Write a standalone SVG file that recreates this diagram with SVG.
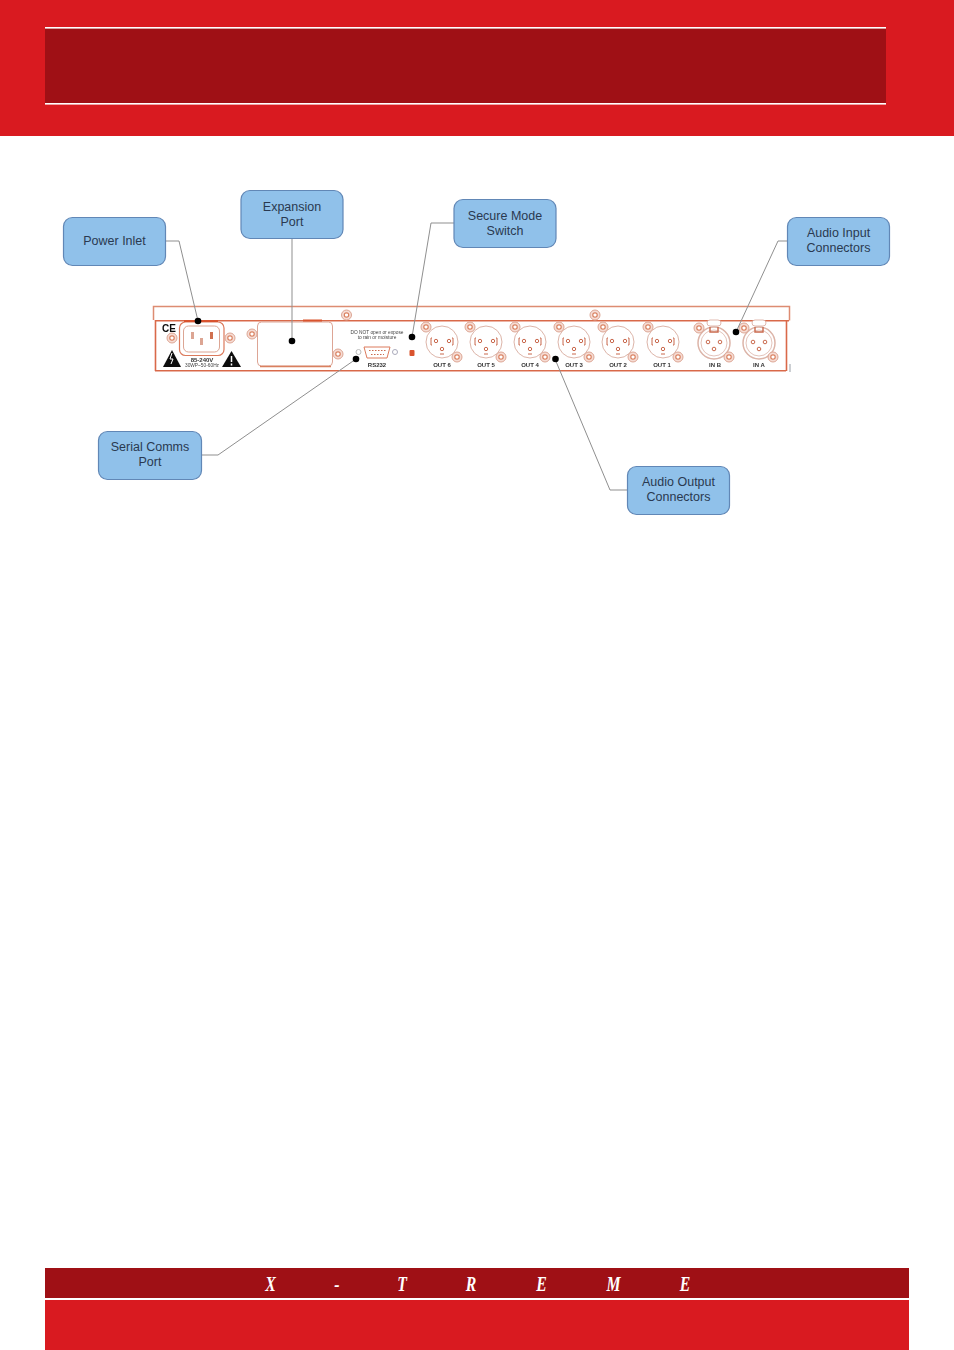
<svg xmlns="http://www.w3.org/2000/svg" width="954" height="1350" viewBox="0 0 954 1350">
<style>
.box{fill:#90c1ea;stroke:#6187b6;stroke-width:1.2}
.lbl{font:12.5px "Liberation Sans",Arial,sans-serif;fill:#2a3950;text-anchor:middle}
.wire{fill:none;stroke:#8f8f8f;stroke-width:1}
.dot{fill:#000}
.pl{fill:none;stroke:#dd8c72;stroke-width:1.5}
.pb{fill:none;stroke:#d9694a;stroke-width:1.6}
.cap{font:bold 6px "Liberation Sans",Arial,sans-serif;fill:#333;text-anchor:middle}
.tiny{font:4.8px "Liberation Sans",Arial,sans-serif;fill:#444;text-anchor:middle}
.xt{font:italic bold 22px "Liberation Serif","Times New Roman",serif;fill:#fff;text-anchor:middle}
</style>
<defs>
<filter id="soft" x="-2%" y="-10%" width="104%" height="120%"><feGaussianBlur stdDeviation="0.35"/></filter>
<g id="bolt"><circle r="5" fill="#f6dcd4" stroke="#dca593" stroke-width="1"/><circle r="2.200" fill="#fff" stroke="#d9805f" stroke-width="1.200"/></g>
<g id="xlr"><circle r="16" fill="#fff" stroke="#dcb4a8" stroke-width="1"/><circle r="1.700" cx="-6" cy="-1" fill="none" stroke="#c9694d" stroke-width="1"/><circle r="1.700" cx="7" cy="-1" fill="none" stroke="#c9694d" stroke-width="1"/><circle r="1.700" cy="7" fill="none" stroke="#c9694d" stroke-width="1"/><path d="M-10-4h-1v7h1M10-4h1v7h-1M-2 12h4" fill="none" stroke="#c9694d"/></g>
<g id="xlf"><circle r="16" fill="#fff" stroke="#dcb4a8" stroke-width="1.500"/><circle r="13" fill="none" stroke="#dcb4a8" stroke-width=".8"/><circle r="1.800" cx="-6" cy="-1" fill="none" stroke="#c9694d" stroke-width="1"/><circle r="1.800" cx="6" cy="-1" fill="none" stroke="#c9694d" stroke-width="1"/><circle r="1.800" cy="6" fill="none" stroke="#c9694d" stroke-width="1"/><path d="M-4-16v5h8v-5" fill="none" stroke="#c9694d" stroke-width="1.400"/><rect x="-7" y="-23" width="14" height="6" rx="3" fill="#fff" stroke="#d8a79a" stroke-width=".8"/></g>
</defs>
<g id="header">
<rect width="954" height="136" fill="#d91a20"/>
<rect x="45" y="28" width="841" height="76" fill="#9f1015"/>
<rect x="45" y="27" width="841" height="1.600" fill="#fff"/>
<rect x="45" y="103" width="841" height="1.600" fill="#fff"/>
</g>
<g id="panel" filter="url(#soft)">
<path class="pl" d="M153.500 320V306.500H789.500V320.500"/>
<path class="pb" d="M155 320.700H789M786.500 321V371M155.500 320V371M155 370.700H786"/>
<path d="M790 364V372" stroke="#9aa0a8" stroke-width="1"/>
<g id="panel-left">
<text x="169" y="331.500" font-family="Liberation Sans,sans-serif" font-weight="bold" font-size="10" fill="#111" text-anchor="middle">CE</text>
<use href="#bolt" x="172" y="338"/>
<rect x="179.500" y="322" width="44.500" height="33.500" rx="6" fill="#fff" stroke="#dc7a5c" stroke-width="1.200"/>
<path d="M184 321H218" stroke="#d9532f" stroke-width="2"/>
<rect x="183.500" y="326" width="36" height="26" rx="5" fill="#fff" stroke="#dca593"/>
<rect x="191" y="332" width="3" height="7" fill="#dca593"/><rect x="210" y="332" width="3" height="7" fill="#d07050"/><rect x="200" y="338" width="3" height="7" fill="#dca593"/>
<use href="#bolt" x="230" y="338"/>
<path d="M163 367L172 350L181 367Z" fill="#111"/><path d="M172 353l-2 6h3l-2 5" stroke="#fff" fill="none"/>
<path d="M222 367L231.500 351L241 367Z" fill="#111"/><path d="M231.500 356v6M231.500 363.500v2" stroke="#fff" stroke-width="1.500"/>
<text class="cap" x="202" y="361.500">85-240V</text>
<text class="tiny" x="202" y="367">30WP~50-60Hz</text>
<use href="#bolt" x="252" y="334"/>
<rect x="257.500" y="322" width="75" height="44" rx="4" fill="#fff" stroke="#dda595" stroke-width="1"/>
<path d="M303 320.500H322" stroke="#d9532f" stroke-width="2"/>
<path d="M260 366.500H331" stroke="#d9805f" stroke-width="1.400"/>
<use href="#bolt" x="338" y="354"/>
<use href="#bolt" x="346.500" y="315"/>
<text class="tiny" x="377" y="334">DO NOT open or expose</text>
<text class="tiny" x="377" y="339">to rain or moisture</text>
<circle cx="358.500" cy="352" r="2.500" fill="none" stroke="#bbb"/>
<path d="M364 347H390L387 358H367Z" fill="#fff" stroke="#dc7a5c"/>
<path d="M369 350.500H386M371 354.500H384" stroke="#c9694d" stroke-dasharray="1.500 1.500" stroke-width="1.200"/>
<circle cx="395" cy="352" r="2.500" fill="none" stroke="#aab"/>
<text class="cap" x="377" y="367">RS232</text>
<rect x="409.500" y="350" width="5" height="6" rx="1" fill="#d9532f"/>
</g>
<g id="panel-right">
<use href="#xlr" x="442" y="342"/><use href="#xlr" x="486" y="342"/><use href="#xlr" x="530" y="342"/><use href="#xlr" x="574" y="342"/><use href="#xlr" x="618" y="342"/><use href="#xlr" x="663" y="342"/>
<use href="#bolt" x="426" y="327"/><use href="#bolt" x="457" y="357"/>
<use href="#bolt" x="470" y="327"/><use href="#bolt" x="501" y="357"/>
<use href="#bolt" x="515" y="327"/><use href="#bolt" x="545" y="357"/>
<use href="#bolt" x="559" y="327"/><use href="#bolt" x="589" y="357"/>
<use href="#bolt" x="603" y="327"/><use href="#bolt" x="633" y="357"/>
<use href="#bolt" x="648" y="327"/><use href="#bolt" x="678" y="357"/>
<use href="#bolt" x="595" y="315"/>
<use href="#xlf" x="714" y="343"/><use href="#xlf" x="759" y="343"/>
<use href="#bolt" x="699" y="328"/><use href="#bolt" x="729" y="357"/>
<use href="#bolt" x="744" y="328"/><use href="#bolt" x="773" y="357"/>
<text class="cap" x="442" y="367">OUT 6</text><text class="cap" x="486" y="367">OUT 5</text><text class="cap" x="530" y="367">OUT 4</text><text class="cap" x="574" y="367">OUT 3</text><text class="cap" x="618" y="367">OUT 2</text><text class="cap" x="662" y="367">OUT 1</text><text class="cap" x="715" y="367">IN B</text><text class="cap" x="759" y="367">IN A</text>
</g>
</g>
<g id="connectors">
<path class="wire" d="M166 241H179L198 321"/>
<path class="wire" d="M292 239V341"/>
<path class="wire" d="M454 223H431L412 337"/>
<path class="wire" d="M787 241H778L736 332"/>
<path class="wire" d="M202 455H218L356 359"/>
<path class="wire" d="M627 490H610L555 359"/>
<circle class="dot" cx="198" cy="321" r="3.300"/><circle class="dot" cx="292" cy="341" r="3.300"/><circle class="dot" cx="412" cy="337" r="3.300"/><circle class="dot" cx="356" cy="359" r="3.300"/><circle class="dot" cx="555.500" cy="359" r="3.300"/><circle class="dot" cx="736" cy="332" r="3.300"/>
</g>
<g id="power-inlet"><rect class="box" x="63.500" y="217.500" width="102" height="48" rx="9"/><text class="lbl" x="114.500" y="245">Power Inlet</text></g>
<g id="expansion-port"><rect class="box" x="241" y="190.500" width="102" height="48" rx="9"/><text class="lbl" x="292" y="211">Expansion</text><text class="lbl" x="292" y="226">Port</text></g>
<g id="secure-mode-switch"><rect class="box" x="454" y="199.500" width="102" height="48" rx="9"/><text class="lbl" x="505" y="219.500">Secure Mode</text><text class="lbl" x="505" y="234.500">Switch</text></g>
<g id="audio-input-connectors"><rect class="box" x="787.500" y="217.500" width="102" height="48" rx="9"/><text class="lbl" x="838.500" y="237">Audio Input</text><text class="lbl" x="838.500" y="252">Connectors</text></g>
<g id="serial-comms-port"><rect class="box" x="98.500" y="431.500" width="103" height="48" rx="9"/><text class="lbl" x="150" y="451">Serial Comms</text><text class="lbl" x="150" y="466">Port</text></g>
<g id="audio-output-connectors"><rect class="box" x="627.500" y="466.500" width="102" height="48" rx="9"/><text class="lbl" x="678.500" y="486">Audio Output</text><text class="lbl" x="678.500" y="501">Connectors</text></g>
<g id="footer">
<rect x="45" y="1268" width="864" height="30" fill="#9f1015"/>
<rect x="45" y="1300" width="864" height="50" fill="#d91a20"/>
<text class="xt" transform="translate(270.500 1291) scale(.72 1)">X</text><text class="xt" transform="translate(337 1291) scale(.72 1)">-</text><text class="xt" transform="translate(402 1291) scale(.72 1)">T</text><text class="xt" transform="translate(471 1291) scale(.72 1)">R</text><text class="xt" transform="translate(541.500 1291) scale(.72 1)">E</text><text class="xt" transform="translate(613.500 1291) scale(.72 1)">M</text><text class="xt" transform="translate(685 1291) scale(.72 1)">E</text>
</g>
</svg>
